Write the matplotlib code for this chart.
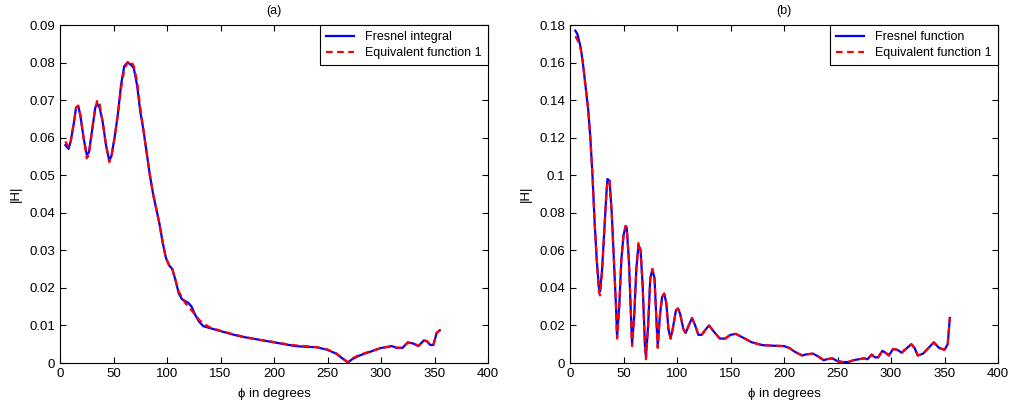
import matplotlib
matplotlib.use('Agg')
import matplotlib.pyplot as plt

plt.rcParams['font.family'] = ['Liberation Sans', 'DejaVu Sans']
plt.rcParams['font.size'] = 9

# panel (a)
phi_a = [5, 8, 10, 13, 15, 17, 19, 22, 25, 27, 30, 33, 35, 37, 40, 43, 46, 48,
         51, 54, 57, 60, 63, 66, 69, 72, 75, 78, 81, 84, 87, 90, 93, 96, 99,
         102, 105, 108, 111, 114, 117, 120, 123, 126, 130, 134, 140, 150, 160,
         170, 180, 190, 200, 210, 220, 230, 240, 250, 258, 265, 269, 273, 280,
         290, 300, 310, 315, 320, 325, 330, 335, 340, 343, 346, 349, 352, 355]
fresnel_a = [0.058, 0.057, 0.059, 0.064, 0.068, 0.0685, 0.066, 0.060, 0.0555,
             0.056, 0.062, 0.068, 0.069, 0.068, 0.064, 0.058, 0.054, 0.055,
             0.060, 0.066, 0.074, 0.079, 0.080, 0.0795, 0.0785, 0.074, 0.067,
             0.062, 0.056, 0.050, 0.045, 0.041, 0.037, 0.032, 0.028, 0.026,
             0.025, 0.022, 0.0185, 0.017, 0.0165, 0.016, 0.015, 0.013, 0.011,
             0.0098, 0.0093, 0.0085, 0.0077, 0.0070, 0.0065, 0.0060, 0.0055,
             0.0050, 0.0045, 0.0043, 0.0042, 0.0035, 0.0025, 0.0010, 0.0001,
             0.0010, 0.0020, 0.0030, 0.0040, 0.0045, 0.0040, 0.0040, 0.0055,
             0.0052, 0.0045, 0.0060, 0.0058, 0.0048, 0.0048, 0.0080, 0.0087]
equiv_a = [0.059, 0.0575, 0.059, 0.064, 0.068, 0.0685, 0.066, 0.060, 0.0545,
           0.0555, 0.062, 0.068, 0.070, 0.069, 0.064, 0.058, 0.0535, 0.055,
           0.060, 0.066, 0.073, 0.078, 0.080, 0.0805, 0.079, 0.075, 0.068,
           0.062, 0.056, 0.050, 0.045, 0.041, 0.037, 0.032, 0.028, 0.026,
           0.025, 0.022, 0.019, 0.0175, 0.016, 0.015, 0.014, 0.013, 0.0115,
           0.0105, 0.0095, 0.0086, 0.0078, 0.0071, 0.0065, 0.0060, 0.0056,
           0.0051, 0.0047, 0.0045, 0.0042, 0.0036, 0.0026, 0.0011, 0.0002,
           0.0012, 0.0022, 0.0031, 0.0040, 0.0044, 0.0041, 0.0041, 0.0054,
           0.0052, 0.0046, 0.0060, 0.0058, 0.0048, 0.0049, 0.0080, 0.0088]

# panel (b)
phi_b = [5, 7, 10, 12, 15, 17, 19, 21, 23, 25, 27, 28, 30, 32, 34, 35, 37, 39,
         41, 43, 44, 46, 48, 50, 52, 53, 55, 57, 58, 60, 62, 64, 66, 68, 70,
         71, 73, 75, 77, 79, 81, 82, 84, 86, 88, 90, 92, 94, 96, 99, 101, 103,
         106, 108, 111, 114, 117, 120, 123, 127, 130, 134, 140, 145, 150, 155,
         160, 170, 180, 190, 200, 205, 210, 217, 220, 227, 232, 237, 240, 245,
         250, 255, 260, 265, 270, 275, 278, 282, 285, 288, 292, 296, 298, 302,
         306, 310, 315, 319, 322, 325, 330, 335, 340, 345, 350, 353, 355]
fresnel_b = [0.177, 0.175, 0.168, 0.160, 0.145, 0.135, 0.120, 0.100, 0.075,
             0.055, 0.040, 0.038, 0.050, 0.070, 0.090, 0.098, 0.097, 0.080,
             0.055, 0.030, 0.014, 0.030, 0.055, 0.068, 0.073, 0.072, 0.055,
             0.025, 0.010, 0.025, 0.050, 0.063, 0.060, 0.040, 0.010, 0.003,
             0.020, 0.045, 0.050, 0.045, 0.020, 0.009, 0.025, 0.035, 0.037,
             0.032, 0.018, 0.013, 0.018, 0.028, 0.029, 0.026, 0.018, 0.016,
             0.020, 0.024, 0.020, 0.015, 0.015, 0.018, 0.020, 0.017, 0.013,
             0.013, 0.015, 0.0155, 0.014, 0.011, 0.0095, 0.0092, 0.009, 0.008,
             0.006, 0.004, 0.0045, 0.005, 0.0035, 0.0015, 0.002, 0.0025, 0.001,
             0.0005, 0.0005, 0.0015, 0.002, 0.0025, 0.002, 0.0045, 0.003,
             0.003, 0.0065, 0.005, 0.004, 0.0075, 0.007, 0.0055, 0.008, 0.010,
             0.008, 0.004, 0.005, 0.008, 0.011, 0.008, 0.007, 0.010, 0.024]
equiv_b = [0.174, 0.172, 0.167, 0.160, 0.145, 0.135, 0.120, 0.100, 0.075,
           0.055, 0.038, 0.036, 0.048, 0.070, 0.090, 0.097, 0.097, 0.080,
           0.055, 0.030, 0.013, 0.030, 0.055, 0.068, 0.073, 0.072, 0.055,
           0.025, 0.009, 0.025, 0.050, 0.064, 0.060, 0.040, 0.010, 0.002,
           0.020, 0.045, 0.050, 0.045, 0.020, 0.008, 0.025, 0.035, 0.037,
           0.032, 0.018, 0.013, 0.018, 0.028, 0.029, 0.026, 0.018, 0.016,
           0.020, 0.024, 0.020, 0.015, 0.015, 0.018, 0.020, 0.017, 0.013,
           0.013, 0.015, 0.0155, 0.014, 0.011, 0.0095, 0.0092, 0.009, 0.008,
           0.006, 0.004, 0.0045, 0.005, 0.0035, 0.0015, 0.002, 0.0025, 0.001,
           0.0005, 0.0005, 0.0015, 0.002, 0.0025, 0.002, 0.0045, 0.003,
           0.003, 0.0065, 0.005, 0.004, 0.0075, 0.007, 0.0055, 0.008, 0.010,
           0.008, 0.004, 0.005, 0.008, 0.011, 0.008, 0.007, 0.010, 0.024]

fig = plt.figure(figsize=(10.09, 4.05), dpi=100)
W, H = 1009, 405
ax1 = fig.add_axes([60 / W, 1 - 363 / H, 428 / W, 338 / H])
ax2 = fig.add_axes([570 / W, 1 - 363 / H, 428 / W, 338 / H])


def style(ax, title, ymax, ystep, lab):
    x, y1, y2 = {'(a)': (phi_a, fresnel_a, equiv_a),
                 '(b)': (phi_b, fresnel_b, equiv_b)}[title]
    ax.plot(x, y1, '-', color='#0000ff', lw=1.6, label=lab)
    ax.plot(x, y2, '--', color='#ff0000', lw=1.6, dashes=(3, 2),
            label='Equivalent function 1')
    ax.set_xlim(0, 400)
    ax.set_ylim(0, ymax)
    ax.set_xticks(range(0, 401, 50))
    yt = [round(i * ystep, 3) for i in range(int(round(ymax / ystep)) + 1)]
    ax.set_yticks(yt)
    ax.set_yticklabels(['0' if v == 0 else ('%g' % v) for v in yt])
    ax.tick_params(direction='in', top=True, right=True, length=4, width=0.8,
                   labelsize=9.5)
    ax.set_title(title, fontsize=9, pad=8)
    ax.set_xlabel('ϕ in degrees', labelpad=6, fontsize=9.5)
    ax.set_ylabel('|H|', labelpad=5, fontsize=9.5)
    leg = ax.legend(loc='upper right', fancybox=False, framealpha=1,
                    edgecolor='black', borderaxespad=0, handlelength=2.2,
                    handletextpad=0.9, borderpad=0.5, labelspacing=0.3,
                    fontsize=9)
    leg.get_frame().set_linewidth(0.8)


style(ax1, '(a)', 0.09, 0.01, 'Fresnel integral')
style(ax2, '(b)', 0.18, 0.02, 'Fresnel function')

fig.savefig('out.png', dpi=100)
